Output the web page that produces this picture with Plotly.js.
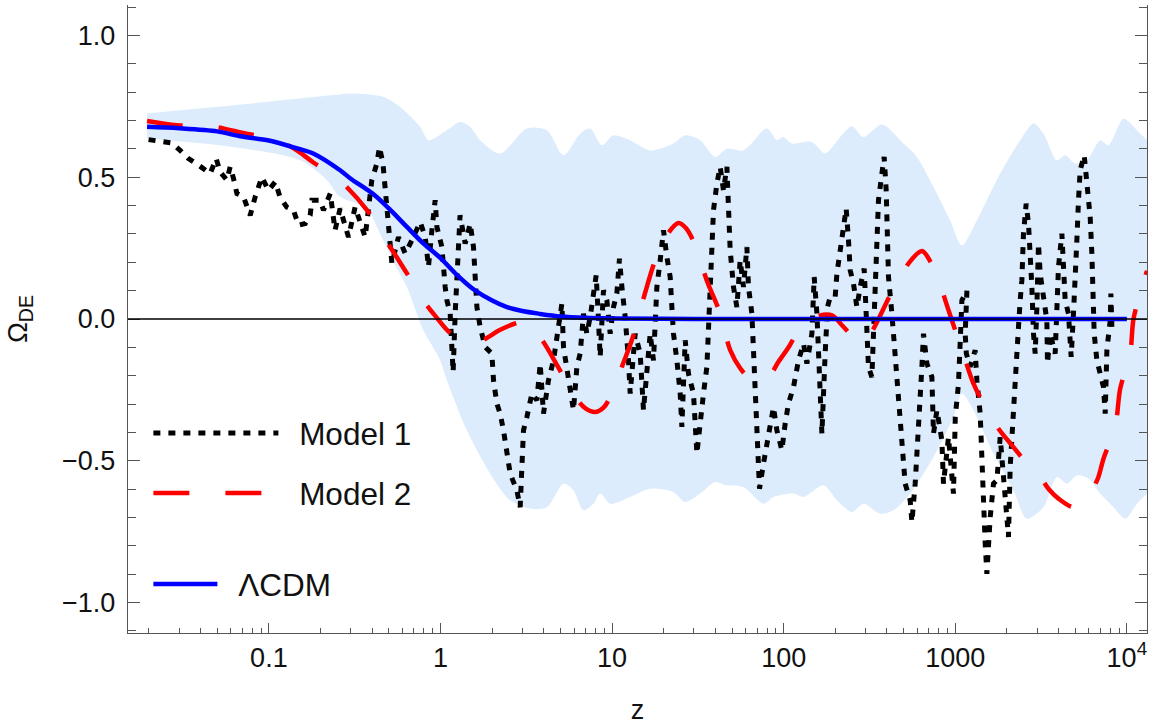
<!DOCTYPE html>
<html>
<head>
<meta charset="utf-8">
<script src="https://cdn.plot.ly/plotly-3.0.1.min.js"></script>
<style>html,body{margin:0;padding:0;background:#fff;}</style>
</head>
<body>
<div id="chart" style="width:1156px;height:725px;"></div>
<script>
// ---------- data ----------
const model1Z = [
0.0199,0.0272,0.0304,0.034,0.0389,0.0455,0.0493,0.052,0.0569,0.0595,0.0622,0.0651,0.0711,0.0778,0.0832,0.091,0.0995,
0.109,0.116,0.127,0.139,0.149,0.163,0.174,0.178,0.199,0.208,0.228,0.243,0.26,0.291,0.318,0.364,0.38,0.398,0.426,0.441,0.462,0.476,0.498,0.521,0.569,0.623,0.681,0.762,0.815,0.851,0.891,0.931,0.953,
1.019,1.065,1.09,1.139,1.165,1.185,1.218,1.246,1.3,1.393,1.49,1.557,1.593,1.63,1.703,1.822,1.993,2.037,2.132,2.228,2.329,2.438,2.548,2.787,2.914,2.981,3.046,3.188,3.409,3.646,3.811,3.983,4.26,4.556,4.87,5.099,5.21,5.453,5.7,5.957,6.236,6.518,6.813,7.131,7.454,7.792,8.079,8.332,8.524,8.91,9.326,9.747,
10.19,10.66,11.04,11.41,11.92,12.46,12.75,13.63,14.58,15.24,15.95,16.67,17.43,17.83,18.24,19.07,19.93,20.86,21.81,22.31,22.8,23.86,24.94,25.51,26.67,27.87,29.81,31.2,32.62,34.09,35.68,36.46,37.3,38.16,38.99,40.81,42.66,44.59,46.67,47.68,48.78,50.99,53.37,55.78,58.31,61.03,62.36,65.27,66.68,68.22,69.8,72.28,76.26,81.55,87.22,91.28,97.61,
102,106.6,114.1,122,130.5,136.5,146,150.6,156.2,159.5,163.2,167,174.5,180,186.6,199.6,204.2,213.5,223.1,231.3,238.6,244.1,255.1,267.1,279.2,294.5,302.5,312,326.6,333.7,341.4,349.3,356.8,373.5,385.2,395.7,399.4,408.1,427.2,446.5,466.7,488.5,510.5,546.1,558.7,583.9,610.3,638.9,652.7,683.2,730.6,746.5,781.3,835.5,853.6,912.8,976.1,
1000,1044,1093,1169,1142,1160,1221,1306,1336,1397,1429,1460,1494,1528,1598,1670,1748,1827,1954,2042,2089,2137,2184,2264,2335,2389,2444,2497,2589,2671,2732,2795,2856,2922,2989,3054,3124,3266,3418,3446,3573,3821,3909,3994,4180,4271,4369,4567,4735,4884,4997,5112,5224,5344,5639,5847,6111,6252,6337,6449,6687,7306,7475,7647,7994,8069,8177];
const model1Omega = [
0.633,0.621,0.595,0.566,0.543,0.513,0.566,0.519,0.49,0.537,0.496,0.443,0.431,0.366,0.431,0.501,0.454,
0.484,0.431,0.395,0.384,0.331,0.337,0.366,0.419,0.419,0.384,0.443,0.313,0.39,0.289,0.395,0.289,0.384,0.49,0.549,0.607,0.549,0.454,0.337,0.196,0.289,0.231,0.278,0.342,0.289,0.184,0.313,0.419,0.325,
0.254,0.113,0.066,0.019,-0.075,-0.187,0.019,0.137,0.366,0.266,0.337,0.254,0.16,0.042,-0.028,-0.099,-0.122,-0.216,-0.299,-0.334,-0.393,-0.475,-0.546,-0.605,-0.664,-0.522,-0.393,-0.346,-0.263,-0.287,-0.157,-0.334,-0.216,-0.146,-0.04,0.054,-0.099,-0.169,-0.252,-0.322,-0.169,-0.122,0.019,-0.052,0.007,0.09,0.154,-0.005,-0.134,0.101,0.066,-0.052,
0.042,0.09,0.213,0.113,0.007,-0.146,-0.263,-0.052,-0.122,-0.322,-0.193,-0.052,-0.146,0.031,0.113,0.207,0.313,0.219,0.148,0.042,-0.052,-0.146,-0.263,-0.381,-0.075,-0.193,-0.263,-0.475,-0.358,-0.263,-0.169,-0.052,0.113,0.254,0.384,0.478,0.537,0.454,0.537,0.395,0.243,0.113,0.042,0.207,0.113,0.254,0.113,0.019,-0.122,-0.322,-0.475,-0.599,-0.51,-0.417,-0.311,-0.393,-0.463,
-0.369,-0.299,-0.24,-0.146,-0.087,-0.157,-0.052,0.148,0.019,-0.122,-0.24,-0.405,-0.122,0.042,0.078,0.078,0.16,0.254,0.348,0.39,0.278,0.172,0.125,0.042,0.113,0.178,0.019,-0.169,-0.205,-0.052,0.125,0.301,0.419,0.513,0.572,0.454,0.301,0.148,0.019,-0.122,-0.263,-0.452,-0.581,-0.64,-0.717,-0.581,-0.405,-0.169,-0.052,-0.157,-0.205,-0.405,-0.322,-0.428,-0.581,-0.417,-0.616,
-0.346,-0.228,0.066,0.101,-0.052,-0.122,-0.169,-0.11,-0.216,-0.334,-0.499,-0.699,-0.793,-0.899,-0.699,-0.581,-0.569,-0.417,-0.64,-0.769,-0.522,-0.405,-0.287,-0.146,-0.028,0.066,0.137,0.301,0.407,0.337,0.243,0.113,-0.052,-0.122,0.042,0.266,0.16,0.066,-0.005,-0.157,-0.052,-0.122,0.066,0.184,0.301,0.184,0.066,0.019,-0.134,0.019,0.125,0.278,0.419,0.525,0.578,0.466,0.36,0.231,0.078,-0.052,-0.146,-0.24,-0.334,-0.11,-0.005,0.09,-0.028];

const model2Z = [0.0195,0.029,0.0465,0.074,0.1,0.122,0.15,0.18,0.22,0.271,0.374,0.49,0.63,0.815,0.95,1.11,1.3,1.5,1.78,2.2,2.72,3.2,3.98,4.5,5.1,6,7,8,9,10,11.6,12.6,13.6,15.2,17.8,20,24.4,27,30.5,35.6,42.7,48.8,56,63.8,75,85,93,108,122,145,170,191,225,261,300,330,366,410,457,540,640,720,798,870,934,1000,1097,1277,1596,1800,2140,2500,2994,3500,3994,4884,5600,6111,6800,7306,8551,9141,10450,10930,12490,13100];
const model2Omega = [0.699,0.684,0.68,0.654,0.64,0.621,0.59,0.554,0.52,0.478,0.383,0.27,0.166,0.056,0.005,-0.043,-0.07,-0.08,-0.073,-0.04,-0.016,-0.01,-0.081,-0.135,-0.193,-0.27,-0.315,-0.328,-0.31,-0.26,-0.157,-0.1,-0.04,0.07,0.207,0.28,0.339,0.32,0.26,0.137,0.019,-0.11,-0.175,-0.21,-0.215,-0.19,-0.152,-0.095,-0.04,0.0,0.015,0.013,-0.03,-0.069,-0.08,-0.04,0.013,0.075,0.125,0.2,0.24,0.2,0.143,0.07,0.013,-0.04,-0.11,-0.228,-0.34,-0.39,-0.446,-0.495,-0.54,-0.6,-0.634,-0.664,-0.645,-0.616,-0.56,-0.493,-0.381,-0.246,-0.122,0.0,0.13,0.17];

const lcdmZ = [0.0195,0.03,0.05,0.068,0.1,0.15,0.18,0.26,0.3,0.407,0.5,0.637,0.8,1.0,1.25,1.557,2,2.44,3,3.81,5,7,10,30,100,1000,10000];
const lcdmOmega = [0.678,0.673,0.662,0.645,0.63,0.6,0.585,0.525,0.495,0.44,0.39,0.325,0.265,0.215,0.155,0.105,0.065,0.042,0.028,0.018,0.009,0.004,0.002,0.0003,0,0,0];

const bandUpperZ = [0.0195,0.0619,0.237,0.298,0.463,0.582,0.762,0.851,1.09,1.302,1.49,1.703,2.228,3.188,4.169,5.21,6.518,7.454,8.722,10.19,12.75,16.67,22.8,26.67,32.62,39.89,46.67,58.31,79.83,91.28,99.7,111.6,146,174.5,213.5,249.7,291.7,373.5,499,597.4,746.5,934,1093,1336,1827,2389,2856,3266,3909,4369,4997,5847,6989,7813,9555,11435,13100];
const bandUpper = [0.725,0.754,0.79,0.796,0.784,0.748,0.678,0.631,0.666,0.695,0.678,0.631,0.584,0.672,0.666,0.578,0.654,0.672,0.613,0.648,0.631,0.595,0.619,0.648,0.631,0.572,0.601,0.595,0.672,0.631,0.642,0.619,0.625,0.584,0.642,0.68,0.642,0.686,0.619,0.572,0.466,0.348,0.26,0.348,0.513,0.631,0.69,0.654,0.56,0.578,0.549,0.56,0.631,0.613,0.707,0.666,0.631];
const bandLowerZ = [0.0195,0.0619,0.152,0.218,0.26,0.372,0.445,0.545,0.637,0.796,0.996,1.09,1.425,1.949,2.548,3.332,4.169,5.21,5.957,6.813,7.792,8.524,9.747,12.75,16.67,22.8,26.67,32.62,39.89,46.67,58.31,76.26,87.22,114.1,130.5,170.6,204.2,249.7,291.7,365.1,436.4,546.1,746.5,976.1,1093,1277,1670,2184,2613,3266,3909,4470,5112,5974,6989,8355,9775,11435,13100];
const bandLower = [0.637,0.607,0.56,0.49,0.431,0.39,0.30,0.19,0.113,-0.04,-0.146,-0.216,-0.393,-0.546,-0.64,-0.669,-0.664,-0.581,-0.605,-0.675,-0.652,-0.616,-0.652,-0.628,-0.599,-0.611,-0.646,-0.616,-0.575,-0.587,-0.593,-0.652,-0.628,-0.616,-0.628,-0.587,-0.64,-0.681,-0.652,-0.687,-0.675,-0.616,-0.487,-0.346,-0.263,-0.322,-0.475,-0.605,-0.705,-0.664,-0.558,-0.581,-0.552,-0.563,-0.616,-0.664,-0.705,-0.652,-0.616];

const xTickVals = [0.1, 1, 10, 100, 1000, 10000];
const xTickText = ['0.1', '1', '10', '100', '1000', '10<sup>4</sup>'];
const xMinorTickVals = [0.02,0.03,0.04,0.05,0.06,0.07,0.08,0.09,0.2,0.3,0.4,0.5,0.6,0.7,0.8,0.9,2,3,4,5,6,7,8,9,20,30,40,50,60,70,80,90,200,300,400,500,600,700,800,900,2000,3000,4000,5000,6000,7000,8000,9000];
const seriesNames = ['Model 1', 'Model 2', 'ΛCDM'];

// ---------- traces ----------
const FONT = 'Liberation Sans, Arial, Helvetica, sans-serif';
const GAP = '\u2002';
const traces = [
  {x: bandLowerZ, y: bandLower, type: 'scatter', mode: 'lines', line: {width: 0, shape: 'spline', smoothing: 0.8, color: 'rgba(0,0,0,0)'}, showlegend: false, hoverinfo: 'skip'},
  {x: bandUpperZ, y: bandUpper, type: 'scatter', mode: 'lines', fill: 'tonexty', fillcolor: '#dcecfc', line: {width: 0, shape: 'spline', smoothing: 0.8, color: 'rgba(0,0,0,0)'}, showlegend: false, hoverinfo: 'skip'},
  {x: model1Z, y: model1Omega, name: GAP + seriesNames[0], type: 'scatter', mode: 'lines', line: {color: '#000', width: 5, dash: '7px,8px'}, legend: 'legend'},
  {x: model2Z, y: model2Omega, name: GAP + seriesNames[1], type: 'scatter', mode: 'lines', line: {color: '#ff0000', width: 4.5, dash: '36px,36px', shape: 'spline', smoothing: 0.9}, legend: 'legend2'},
  {x: lcdmZ, y: lcdmOmega, name: GAP + seriesNames[2], type: 'scatter', mode: 'lines', line: {color: '#0000ff', width: 4.5, shape: 'spline', smoothing: 0.9}, legend: 'legend3'}
];

const axisColor = '#555';
const legendFont = {size: 31.5, family: FONT, color: '#111'};
const layout = {
  width: 1156, height: 725,
  margin: {l: 128, r: 9, t: 5, b: 92},
  paper_bgcolor: '#fff', plot_bgcolor: '#fff',
  font: {family: FONT, size: 27, color: '#111'},
  hovermode: false,
  xaxis: {
    type: 'log', range: [Math.log10(0.0151), Math.log10(13100)],
    tickmode: 'array', tickvals: xTickVals, ticktext: xTickText,
    ticks: 'inside', ticklen: 10, tickwidth: 1, tickcolor: axisColor,
    showline: true, linecolor: axisColor, linewidth: 1.2,
    showgrid: false, zeroline: false,
    tickfont: {size: 27, family: FONT, color: '#111'},
    minor: {tickmode: 'array', tickvals: xMinorTickVals, ticks: 'inside', ticklen: 5, tickwidth: 1, tickcolor: axisColor, showgrid: false},
    title: {text: 'z', font: {size: 27, family: FONT, color: '#111'}, standoff: 32}
  },
  xaxis2: {
    overlaying: 'x', side: 'top', anchor: 'y',
    range: [-2.096, 4.743], tick0: 0, dtick: 1,
    ticks: 'inside', ticklen: 11, tickwidth: 1, tickcolor: axisColor,
    showticklabels: false, showline: true, linecolor: axisColor, linewidth: 1.2,
    showgrid: false, zeroline: false,
    minor: {dtick: 0.25, ticks: 'inside', ticklen: 7, tickwidth: 1, tickcolor: axisColor, showgrid: false}
  },
  yaxis: {
    range: [-1.108, 1.108], tick0: 0, dtick: 0.5, tickformat: '.1f',
    ticks: 'inside', ticklen: 12, tickwidth: 1, tickcolor: axisColor,
    showline: true, linecolor: axisColor, linewidth: 1.2, mirror: 'ticks',
    showgrid: false, zeroline: false,
    tickfont: {size: 27, family: FONT, color: '#111'},
    ticklabelstandoff: 6,
    minor: {dtick: 0.1, ticks: 'inside', ticklen: 8, tickwidth: 1, tickcolor: axisColor, showgrid: false},
    title: {text: 'Ω<sub>DE</sub>', font: {size: 28, family: FONT, color: '#111'}, standoff: 26}
  },
  shapes: [
    {type: 'line', xref: 'paper', x0: 0, x1: 1, yref: 'y', y0: 0, y1: 0, layer: 'above', line: {color: '#000', width: 1.3}}
  ],
  legend: {x: 0.02, y: 0.3185, xanchor: 'left', yanchor: 'middle', itemwidth: 125, bgcolor: 'rgba(0,0,0,0)', font: legendFont},
  legend2: {x: 0.02, y: 0.2229, xanchor: 'left', yanchor: 'middle', itemwidth: 125, bgcolor: 'rgba(0,0,0,0)', font: legendFont},
  legend3: {x: 0.02, y: 0.0780, xanchor: 'left', yanchor: 'middle', itemwidth: 64, bgcolor: 'rgba(0,0,0,0)', font: legendFont}
};

Plotly.newPlot('chart', traces, layout, {displayModeBar: false, staticPlot: true});
</script>
</body>
</html>
